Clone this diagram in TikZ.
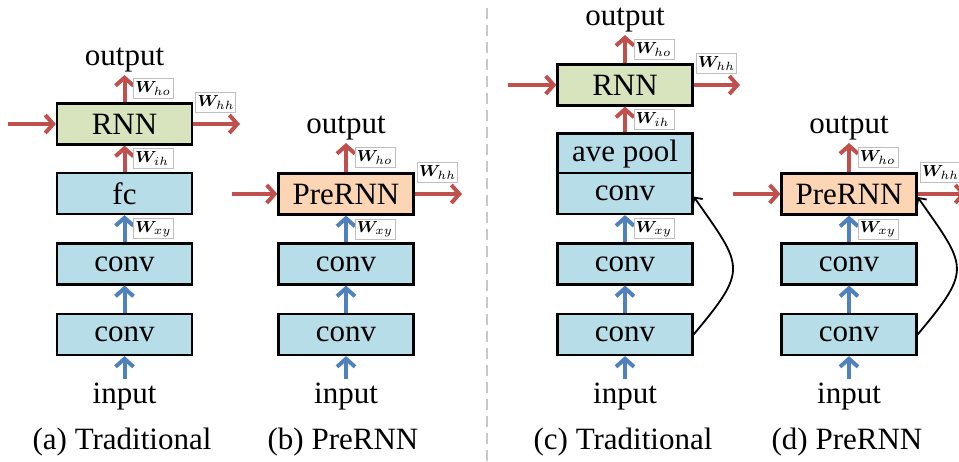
\documentclass[tikz,border=0pt]{standalone}
\usepackage{fontspec}
\setmainfont{Liberation Serif}
\usepackage{bm}
\usetikzlibrary{arrows.meta}

\definecolor{boxblue}{HTML}{B7DEE8}
\definecolor{boxgreen}{HTML}{D7E4BD}
\definecolor{boxorange}{HTML}{FCD5B5}
\definecolor{arrred}{HTML}{C0504D}
\definecolor{arrblue}{HTML}{4F81BD}
\definecolor{sepgray}{HTML}{C8C8C8}

\tikzset{
  layer/.style={draw, line width=1.1pt, fill=boxblue, minimum width=67.5pt, minimum height=20.5pt, inner sep=0pt},
  rnnbox/.style={layer, fill=boxgreen},
  prebox/.style={layer, fill=boxorange},
  txt/.style={inner sep=1.5pt, anchor=base},
  flow/.style={line width=2pt, -{Straight Barb[length=4pt,width=9pt]}},
  redflow/.style={flow, arrred},
  blueflow/.style={flow, arrblue},
  skipflow/.style={line width=0.9pt, -{Straight Barb[length=3pt,width=6pt]}},
  wlab/.style={draw=black!25, line width=0.4pt, fill=white, text=black, font=\fontsize{8.5}{9}\selectfont, inner xsep=1pt, inner ysep=0pt, text width=18pt, minimum height=10pt, align=left, anchor=west},
  wmid/.style={midway, wlab, xshift=4.25pt}
}

\begin{document}
\begin{tikzpicture}[x=0.5pt, y=-0.5pt, every node/.append style={font=\fontsize{15.5}{18}\selectfont}]
    \useasboundingbox (0,0) rectangle (959,461);
    \clip (0,0) rectangle (959,461);

    % (a) traditional
    \node[rnnbox] (rnnA) at (124.5,124) {RNN};
    \node[layer] (fcA) at (124.5,193.5) {fc};
    \node[layer] (convAb) at (124.5,264) {conv};
    \node[layer] (convAa) at (124.5,334.5) {conv};
    \node[txt] (outA) at (124.5,65) {output};
    \node[txt] (inA) at (124.5,403) {input};
    \node[txt] (capA) at (122,449) {(a) Traditional};
    \coordinate (hinA) at (8,124);
    \coordinate (houtA) at (240,124);
    \draw[blueflow] (inA) -- (convAa);
    \draw[blueflow] (convAa) -- (convAb);
    \draw[blueflow] (convAb) -- (fcA) node[wmid] {$\bm{W}_{xy}$};
    \draw[redflow] (fcA) -- (rnnA) node[wmid] {$\bm{W}_{ih}$};
    \draw[redflow] (rnnA) -- (outA) node[wmid] {$\bm{W}_{ho}$};
    \draw[redflow] (hinA) -- (rnnA);
    \draw[redflow] (rnnA) -- (houtA);
    \node[wlab] (whhA) at ([xshift=1pt]rnnA.north east) {$\bm{W}_{hh}$};

    % (b) PreRNN
    \node[prebox] (preB) at (346,194) {PreRNN};
    \node[layer] (convBb) at (346,264) {conv};
    \node[layer] (convBa) at (346,334.5) {conv};
    \node[txt] (outB) at (346,133) {output};
    \node[txt] (inB) at (346,403) {input};
    \node[txt] (capB) at (343,449) {(b) PreRNN};
    \coordinate (hinB) at (232,194);
    \coordinate (houtB) at (462,194);
    \draw[blueflow] (inB) -- (convBa);
    \draw[blueflow] (convBa) -- (convBb);
    \draw[blueflow] (convBb) -- (preB) node[wmid] {$\bm{W}_{xy}$};
    \draw[redflow] (preB) -- (outB) node[wmid] {$\bm{W}_{ho}$};
    \draw[redflow] (hinB) -- (preB);
    \draw[redflow] (preB) -- (houtB);
    \node[wlab] (whhB) at ([xshift=1pt]preB.north east) {$\bm{W}_{hh}$};

    % separator
    \draw[sepgray, line width=1pt, dash pattern=on 5.5pt off 3pt] (487,8) -- (487,461);

    % (c) traditional with skip
    \node[rnnbox] (rnnC) at (625,85) {RNN};
    \node[layer] (poolC) at (625,154) {ave pool};
    \node[layer] (convCc) at (625,193.5) {conv};
    \node[layer] (convCb) at (625,264) {conv};
    \node[layer] (convCa) at (625,334.5) {conv};
    \node[txt] (outC) at (625,25) {output};
    \node[txt] (inC) at (625,403) {input};
    \node[txt] (capC) at (623,449) {(c) Traditional};
    \coordinate (hinC) at (508,85);
    \coordinate (houtC) at (740,85);
    \draw[blueflow] (inC) -- (convCa);
    \draw[blueflow] (convCa) -- (convCb);
    \draw[blueflow] (convCb) -- (convCc) node[wmid] {$\bm{W}_{xy}$};
    \draw[redflow] (poolC) -- (rnnC) node[wmid] {$\bm{W}_{ih}$};
    \draw[redflow] (rnnC) -- (outC) node[wmid] {$\bm{W}_{ho}$};
    \draw[redflow] (hinC) -- (rnnC);
    \draw[redflow] (rnnC) -- (houtC);
    \node[wlab] (whhC) at ([xshift=1pt]rnnC.north east) {$\bm{W}_{hh}$};
    \draw[skipflow] (convCa.east) to[out=50, in=-55, looseness=1.6] ([yshift=-1.5pt]convCc.east);

    % (d) PreRNN with skip
    \node[prebox] (preD) at (849,194) {PreRNN};
    \node[layer] (convDb) at (849,264) {conv};
    \node[layer] (convDa) at (849,334.5) {conv};
    \node[txt] (outD) at (849,133) {output};
    \node[txt] (inD) at (849,403) {input};
    \node[txt] (capD) at (847,449) {(d) PreRNN};
    \coordinate (hinD) at (733,194);
    \coordinate (houtD) at (966,194);
    \draw[blueflow] (inD) -- (convDa);
    \draw[blueflow] (convDa) -- (convDb);
    \draw[blueflow] (convDb) -- (preD) node[wmid] {$\bm{W}_{xy}$};
    \draw[redflow] (preD) -- (outD) node[wmid] {$\bm{W}_{ho}$};
    \draw[redflow] (hinD) -- (preD);
    \draw[redflow] (preD) -- (houtD);
    \node[wlab] (whhD) at ([xshift=1pt]preD.north east) {$\bm{W}_{hh}$};
    \draw[skipflow] (convDa.east) to[out=50, in=-55, looseness=1.6] ([yshift=-1.5pt]preD.east);
\end{tikzpicture}
\end{document}
